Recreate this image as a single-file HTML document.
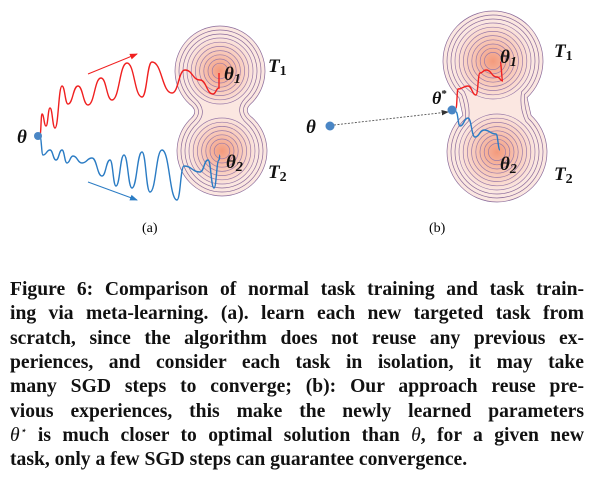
<!DOCTYPE html>
<html><head><meta charset="utf-8"><style>
body{margin:0;background:#fff;width:595px;height:489px;overflow:hidden;position:relative}
svg{position:absolute;left:0;top:0}
.cap{position:absolute;left:10px;width:574px;font-family:"Liberation Serif",serif;font-weight:bold;font-size:19.6px;line-height:24px;white-space:nowrap;text-align:justify;text-align-last:justify;color:#111}
.last{text-align-last:left}
.m{font-family:"Liberation Serif",serif;font-weight:bold;font-style:italic;fill:#111}
</style></head><body>
<svg width="595" height="250">
<defs>
<radialGradient id="g"><stop offset="0" stop-color="#f39a7c"/><stop offset="0.55" stop-color="#f8c8b8"/><stop offset="1" stop-color="#fbe7e1"/></radialGradient>
<marker id="ar" markerWidth="8" markerHeight="8" refX="7" refY="4" orient="auto"><path d="M0,1 L8,4 L0,7z" fill="context-stroke"/></marker>
<marker id="ar2" markerWidth="8" markerHeight="8" refX="7" refY="4" orient="auto"><path d="M0,1 L8,4 L0,7z" fill="#333"/></marker>
</defs>
<g id="blobA"></g>
<g id="blobB"></g>
<path id="redA" fill="none" stroke="#f02020" stroke-width="1.4"/>
<path id="blueA" fill="none" stroke="#2b7cc4" stroke-width="1.4"/>
<line x1="88" y1="74" x2="137" y2="54" stroke="#f02020" stroke-width="1" marker-end="url(#ar)"/>
<line x1="88" y1="182" x2="137" y2="200" stroke="#2b7cc4" stroke-width="1" marker-end="url(#ar)"/>
<circle cx="38" cy="136" r="4" fill="#4a86c5"/>
<text class="m" x="17" y="143" font-size="19">θ</text>
<text class="m" x="224" y="80" font-size="19">θ<tspan font-size="14" dy="3">1</tspan></text>
<text class="m" x="226" y="168" font-size="19">θ<tspan font-size="14" dy="3">2</tspan></text>
<text class="m" x="268" y="72" font-size="19">T<tspan font-size="14" dy="3" font-style="normal">1</tspan></text>
<text class="m" x="268" y="178" font-size="19">T<tspan font-size="14" dy="3" font-style="normal">2</tspan></text>
<text x="142" y="232" font-family="Liberation Serif,serif" font-size="14">(a)</text>

<path id="redB" fill="none" stroke="#f02020" stroke-width="1.4"/>
<path id="blueB" fill="none" stroke="#2b7cc4" stroke-width="1.4"/>
<line x1="334" y1="125" x2="448" y2="112" stroke="#555" stroke-width="0.9" stroke-dasharray="2,1.5" marker-end="url(#ar2)"/>
<circle cx="330" cy="126" r="4.5" fill="#4a86c5"/>
<circle cx="452" cy="110" r="4.5" fill="#4a86c5"/>
<text class="m" x="306" y="133" font-size="19">θ</text>
<text class="m" x="432" y="104" font-size="18">θ<tspan font-size="11" dy="-7" font-style="normal">*</tspan></text>
<text class="m" x="500" y="63" font-size="19">θ<tspan font-size="14" dy="3">1</tspan></text>
<text class="m" x="500" y="170" font-size="19">θ<tspan font-size="14" dy="3">2</tspan></text>
<text class="m" x="554" y="57" font-size="19">T<tspan font-size="14" dy="3" font-style="normal">1</tspan></text>
<text class="m" x="554" y="180" font-size="19">T<tspan font-size="14" dy="3" font-style="normal">2</tspan></text>
<text x="429" y="232" font-family="Liberation Serif,serif" font-size="14">(b)</text>
</svg>
<div>
<div class="cap" style="top:278px">Figure 6: Comparison of normal task training and task train-</div>
<div class="cap" style="top:302px">ing via meta-learning. (a). learn each new targeted task from</div>
<div class="cap" style="top:327px">scratch, since the algorithm does not reuse any previous ex-</div>
<div class="cap" style="top:351px">periences, and consider each task in isolation, it may take</div>
<div class="cap" style="top:375px">many SGD steps to converge; (b): Our approach reuse pre-</div>
<div class="cap" style="top:400px">vious experiences, this make the newly learned parameters</div>
<div class="cap" style="top:424px"><span style="font-weight:normal;font-style:italic">θ<span style="font-size:11px;vertical-align:7px;line-height:0">⋆</span></span> is much closer to optimal solution than <span style="font-weight:normal;font-style:italic">θ</span>, for a given new</div>
<div class="cap last" style="top:448px">task, only a few SGD steps can guarantee convergence.</div>
</div>
<script>
const NS='http://www.w3.org/2000/svg';
function c(g,x,y,r,fill,stroke){const e=document.createElementNS(NS,'circle');e.setAttribute('cx',x);e.setAttribute('cy',y);e.setAttribute('r',r);e.setAttribute('fill',fill);e.setAttribute('stroke',stroke||'none');e.setAttribute('stroke-width','0.7');g.appendChild(e);}
function pea(g,a,b,R,nh,fill){
 const s=Math.sin(0.75),co=Math.cos(0.75);
 const TL=[a[0]-R*s,a[1]+R*co],TR=[a[0]+R*s,a[1]+R*co],BR=[b[0]+R*s,b[1]-R*co],BL=[b[0]-R*s,b[1]-R*co];
 const mx=(a[0]+b[0])/2,my=(a[1]+b[1])/2;
 const d='M'+TL+' A'+R+','+R+' 0 1 1 '+TR+' Q'+(mx+nh)+','+my+' '+BR+' A'+R+','+R+' 0 1 1 '+BL+' Q'+(mx-nh)+','+my+' '+TL+'Z';
 const e=document.createElementNS(NS,'path');e.setAttribute('d',d);e.setAttribute('fill',fill);e.setAttribute('stroke','#8a6a9a');e.setAttribute('stroke-width','0.7');g.appendChild(e);}
function blob(id,a,b,R,nh){const g=document.getElementById(id);
 pea(g,a,b,R,nh,'#fbe7e1');pea(g,a,b,R-4,nh-5,'#fbe7e1');pea(g,a,b,R-8,nh-10,'#fbe7e1');
 [a,b].forEach(p=>{c(g,p[0],p[1],R-11,'url(#g)');for(let r=R-12;r>=5;r-=4.2)c(g,p[0],p[1],r,'none','#9a7aa8');});}
blob('blobA',[220,71],[222,151],45,22);
blob('blobB',[493,61],[497,152],50,34);
function wave(id,pts){let d='M'+pts[0][0]+','+pts[0][1];for(let i=1;i<pts.length;i++){const p=pts[i-1],q=pts[i],mx=(p[0]+q[0])/2;d+=' C'+mx+','+p[1]+' '+mx+','+q[1]+' '+q[0]+','+q[1];}document.getElementById(id).setAttribute('d',d);}
wave('redA',[[40,135],[42,114],[46,126],[50,108],[55,128],[62,86],[68,104],[78,86],[88,105],[101,78],[112,100],[127,63],[142,97],[152,62],[172,93],[185,70],[200,80],[213,94],[219,88],[219,73]]);
wave('blueA',[[40,137],[43,155],[50,150],[56,160],[62,150],[67,163],[73,156],[82,163],[92,158],[102,176],[110,160],[116,186],[124,155],[132,188],[142,152],[150,192],[162,150],[177,200],[184,166],[200,172],[208,160],[214,188],[219,160],[220,155]]);
wave('redB',[[456,108],[458,89],[468,86],[476,95],[480,73],[486,70],[497,77],[503,81],[500,62]]);
wave('blueB',[[456,112],[460,126],[468,118],[475,137],[484,130],[496,134],[500,150]]);
</script>
</body></html>
